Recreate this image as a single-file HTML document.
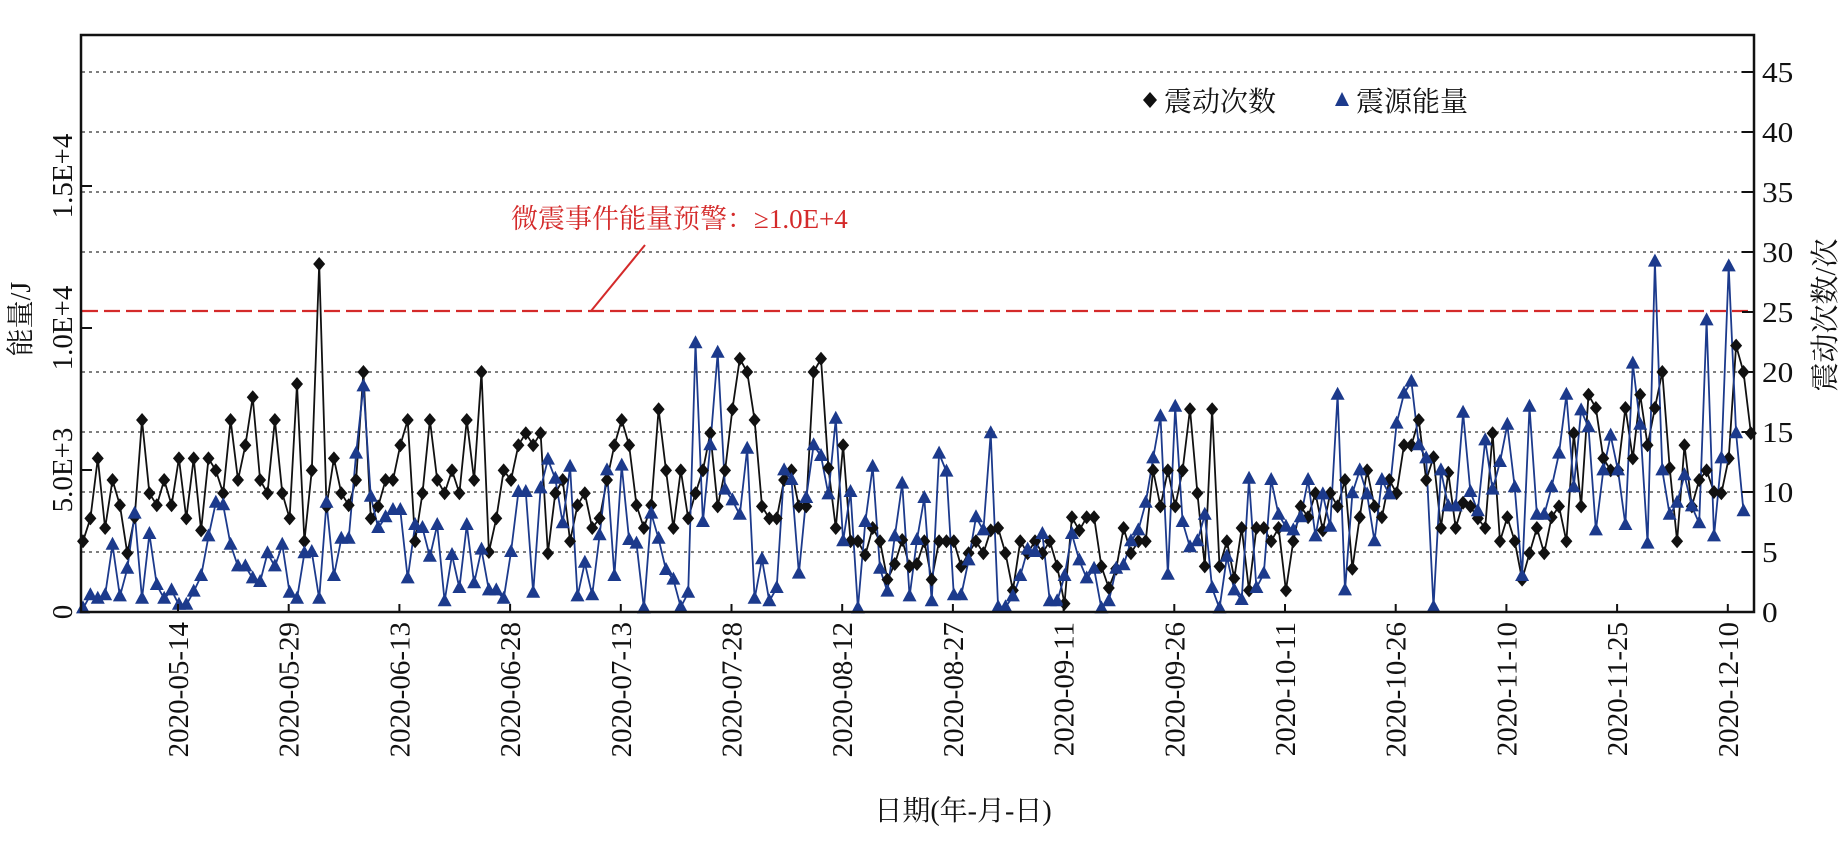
<!DOCTYPE html>
<html><head><meta charset="utf-8"><style>
html,body{margin:0;padding:0;background:#fff;}
svg{display:block;}
text{font-family:"Liberation Serif","Noto Serif CJK SC","Noto Sans CJK SC",serif;fill:#111;}
</style></head><body>
<svg id="s" width="1841" height="860" viewBox="0 0 1841 860" xmlns="http://www.w3.org/2000/svg">
<g id="grid" stroke="#555" stroke-width="1.6" stroke-dasharray="3 4">
<line x1="82" x2="1754" y1="72" y2="72"/><line x1="82" x2="1754" y1="132" y2="132"/>
<line x1="82" x2="1754" y1="192" y2="192"/><line x1="82" x2="1754" y1="252" y2="252"/>
<line x1="82" x2="1754" y1="372" y2="372"/><line x1="82" x2="1754" y1="432" y2="432"/>
<line x1="82" x2="1754" y1="492" y2="492"/><line x1="82" x2="1754" y1="552" y2="552"/>
</g>
<line x1="82" x2="1754" y1="311" y2="311" stroke="#d42a2a" stroke-width="2.2" stroke-dasharray="16 6"/>
<line x1="591" y1="311" x2="645" y2="245" stroke="#d42a2a" stroke-width="2"/>
<text x="511" y="228" font-size="27" style="fill:#d42a2a">微震事件能量预警：≥1.0E+4</text>
<g id="series"></g>
<rect x="81" y="35" width="1673" height="577" fill="none" stroke="#111" stroke-width="2.5"/>
<g stroke="#111" stroke-width="2">
<line x1="82" x2="92" y1="470" y2="470"/><line x1="82" x2="92" y1="328" y2="328"/><line x1="82" x2="92" y1="186" y2="186"/>
</g>
<g id="rt" stroke="#111" stroke-width="2"></g>
<g id="bt" stroke="#111" stroke-width="2"></g>
<g id="labels"></g>
<g font-size="29">
<text transform="translate(72,612) rotate(-90)" text-anchor="middle">0</text>
<text transform="translate(72,470) rotate(-90)" text-anchor="middle">5.0E+3</text>
<text transform="translate(72,328) rotate(-90)" text-anchor="middle">1.0E+4</text>
<text transform="translate(72,176) rotate(-90)" text-anchor="middle">1.5E+4</text>
</g>
<text transform="translate(30,319) rotate(-90)" text-anchor="middle" font-size="28">能量/J</text>
<text transform="translate(1835,315) rotate(-90)" text-anchor="middle" font-size="29">震动次数/次</text>
<text x="963" y="820" text-anchor="middle" font-size="28">日期(年-月-日)</text>
<path d="M1150,92 l7,8 l-7,8 l-7,-8z" fill="#111"/>
<text x="1164" y="111" font-size="28">震动次数</text>
<path d="M1342,92 l7,14 l-14,0z" fill="#1c3a8c"/>
<text x="1356" y="111" font-size="28">震源能量</text>
</svg>
<script>
var B=[5.9,7.8,12.8,7,11,8.9,4.9,7.9,16,9.9,8.9,11,8.9,12.8,7.8,12.8,6.8,12.8,11.8,9.9,16,11,13.9,17.9,11,9.9,16,9.9,7.8,19,5.9,11.8,29,8.8,12.8,9.9,8.9,11,20,7.8,8.8,11,11,13.9,16,5.9,
9.9,16,11,9.9,11.8,9.9,16,11,20,5,7.8,11.8,11,13.9,14.9,13.9,14.9,4.9,9.9,11,5.9,8.9,9.9,7,7.8,11,13.9,16,13.9,8.9,7,8.9,16.9,11.8,7,11.8,7.8,9.9,11.8,14.9,8.8,11.8,16.9,21.1,20,
16,8.8,7.8,7.8,11,11.8,8.8,8.8,20,21.1,12,7,13.9,5.9,5.9,4.75,7,5.9,2.7,4,6,3.8,4,5.9,2.7,5.9,5.9,5.9,3.8,4.9,5.9,4.9,6.8,7,4.9,1.8,5.9,4.9,5.9,4.9,5.9,3.8,0.7,7.9,6.8,
7.9,7.9,3.8,2,3.6,7,4.9,5.9,5.9,11.8,8.8,11.8,8.8,11.8,16.9,9.9,3.8,16.9,3.8,5.9,2.8,7,1.8,7,7,5.9,7,1.8,5.9,8.8,7.9,9.9,6.8,9.9,8.8,11,3.6,7.9,11.8,8.8,7.9,11,9.9,13.9,
13.9,16,11,12.9,7,11.6,7,9.1,8.8,7.8,7,14.9,5.9,7.9,5.9,2.7,4.9,7,4.9,7.9,8.8,5.9,14.9,8.8,18.1,17,12.8,11.8,11.8,17,12.8,18.1,13.9,17,20,12,5.9,13.9,8.8,11,11.8,10,9.9,12.8,22.2,20,14.9];
var L=[.3,1.4,1.1,1.4,5.6,1.3,3.6,8.2,1.1,6.5,2.25,1.1,1.8,.6,.6,1.7,3,6.3,9.1,8.9,5.6,3.8,3.8,2.8,2.5,4.9,3.8,5.6,1.6,1.1,4.9,5,1.1,9.1,3,6.1,6.1,13.2,18.8,9.6,7,7.9,8.5,8.5,
2.8,7.25,7,4.6,7.25,0.9,4.75,2,7.25,2.4,5.2,1.8,1.8,1.1,5,10,10,1.6,10.3,12.7,11.1,7.4,12.1,1.3,4.1,1.4,6.4,11.8,3,12.2,6,5.7,0.3,8.2,6.1,3.5,2.7,0.4,1.6,22.4,7.5,13.9,21.6,10.2,9.3,8.1,
13.6,1.1,4.4,.9,2,11.8,11,3.2,9.5,13.9,13,9.8,16.1,5.9,10,.3,7.5,12.1,3.6,1.7,6.3,10.7,1.3,6,9.5,.9,13.2,11.7,1.4,1.4,4.3,7.9,6.8,14.9,.4,.4,1.3,3,5.2,5,6.5,.9,.9,3,6.5,
4.3,2.8,3.6,.3,.9,3.6,3.9,5.9,6.8,9.1,12.8,16.3,3.1,17.1,7.5,5.4,5.9,8.1,2,.3,4.6,1.8,1,11.1,2,3.2,11,8.1,7.1,6.8,7.9,11,6.3,9.8,7.1,18.1,1.8,9.9,11.8,9.8,5.9,11,9.8,15.7,
18.2,19.2,13.9,12.8,.4,11.8,8.8,8.8,16.6,10,8.4,14.3,10.2,12.5,15.6,10.4,3,17.1,8.1,8.1,10.4,13.2,18.1,10.4,16.8,15.4,6.8,11.8,14.7,11.8,7.25,20.7,15.6,5.7,29.2,11.8,8.1,9.1,11.4,8.8,7.4,24.3,6.3,12.8,28.8,14.9,8.4];
function X(i){return 83+i*7.38;}function Y(c){return 612-c*12;}
var g=document.getElementById('series'),h='';
function poly(a,col){var p=a.map(function(c,i){return X(i).toFixed(1)+','+Y(c).toFixed(1)}).join(' ');
return '<polyline points="'+p+'" fill="none" stroke="'+col+'" stroke-width="1.8"/>';}
h+=poly(B,'#111');h+=poly(L,'#1c3a8c');
B.forEach(function(c,i){var x=X(i),y=Y(c);h+='<path d="M'+x+','+(y-7)+' l6,7 l-6,7 l-6,-7z" fill="#111"/>';});
L.forEach(function(c,i){var x=X(i),y=Y(c);h+='<path d="M'+x+','+(y-8)+' l7,13 l-14,0z" fill="#1c3a8c"/>';});
g.innerHTML=h;
var rt='',lb='';
for(var k=0;k<=9;k++){var y=612-k*60;rt+='<line x1="1742" x2="1754" y1="'+y+'" y2="'+y+'"/>';
lb+='<text x="1762" y="'+(y+10)+'" font-size="28" transform="translate(1762,0) scale(1.12,1) translate(-1762,0)">'+(k*5)+'</text>';}
document.getElementById('rt').innerHTML=rt;
var d=['05-14','05-29','06-13','06-28','07-13','07-28','08-12','08-27','09-11','09-26','10-11','10-26','11-10','11-25','12-10'],bt='';
d.forEach(function(s,i){var x=178+i*110.7;bt+='<line x1="'+x+'" x2="'+x+'" y1="604" y2="612"/>';
lb+='<text transform="translate('+(x+10)+',622) rotate(-90)" text-anchor="end" font-size="29">2020-'+s+'</text>';});
document.getElementById('bt').innerHTML=bt;
document.getElementById('labels').innerHTML=lb;
</script>
</body></html>
